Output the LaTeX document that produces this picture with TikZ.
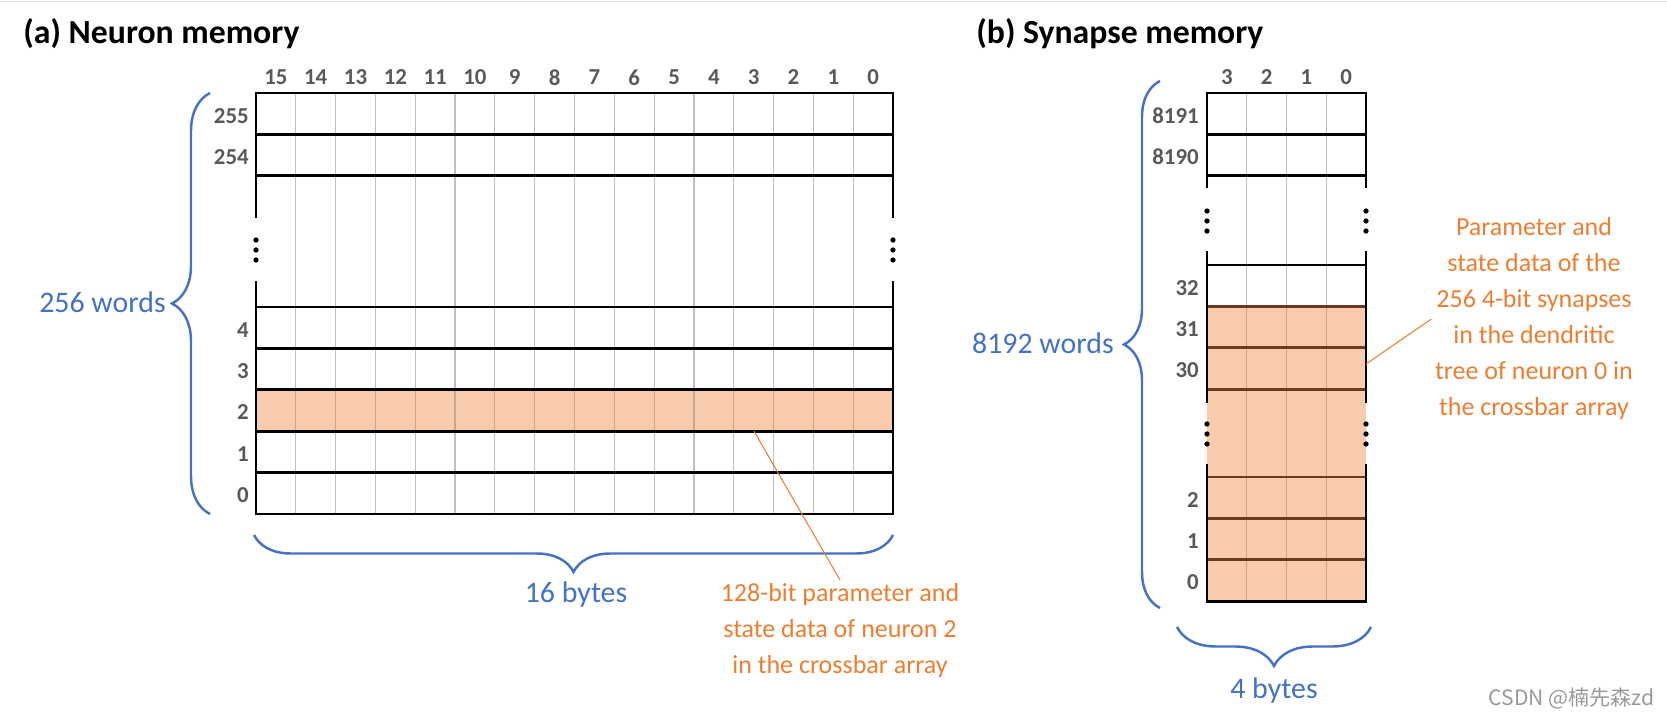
\documentclass[tikz,border=0pt]{standalone}
\usepackage{fontspec}
\setmainfont{Carlito}
\newfontfamily\cjkfont{Noto Sans CJK SC}
\usetikzlibrary{decorations.pathreplacing}
\definecolor{myblue}{HTML}{4472C4}
\definecolor{myorange}{HTML}{ED7D31}
\definecolor{mypeach}{HTML}{F8CBAD}
\definecolor{mylabel}{HTML}{595959}
\definecolor{mygrid}{HTML}{BFBFBF}
\definecolor{mygridpeach}{HTML}{C9A590}
\definecolor{mybrown}{HTML}{6B3A1E}
\tikzset{
	titletext/.style={font=\fontsize{19.2}{23}\selectfont\bfseries, inner sep=0pt}
}
\tikzset{
	idxtext/.style={font=\fontsize{13}{15}\selectfont\bfseries, text=mylabel, inner sep=0pt},
	bluetext/.style={font=\fontsize{17}{20}\selectfont, text=myblue, inner sep=0pt},
	notetext/.style={font=\fontsize{14.8}{20.5}\selectfont, text=myorange, align=center, inner sep=2pt}
}
\tikzset{
	membrace/.style={decorate, decoration={brace, amplitude=#1}, draw=myblue, line width=1.4pt},
	wordline/.style={line width=1.5pt, line cap=rect},
	bitline/.style={line width=0.7pt},
	leader/.style={draw=myorange, line width=0.6pt}
}

\begin{document}
\begin{tikzpicture}[x=0.02cm, y=-0.02cm]
      \useasboundingbox (0,0) rectangle (1667,717);

      % thin border at the top of the screenshot
      \draw[black!12, line width=1pt] (0,1.5) -- (1667,1.5);

      % titles
      \node[titletext, anchor=west] (titlea) at (23,34) {(a) Neuron memory};
      \node[titletext, anchor=west] (titleb) at (976,34) {(b) Synapse memory};

      % ---------- (a) neuron memory ----------
      % word of neuron 2
      \fill[mypeach] (256,389.8) rectangle (893,431.2);
      % bit columns
      \foreach \i in {1,...,15} {
        \draw[bitline, mygrid] ({256+\i*39.8125},93) -- ({256+\i*39.8125},514);
        \draw[bitline, mygridpeach] ({256+\i*39.8125},389.8) -- ({256+\i*39.8125},431.2);
      }
      % word lines
      \foreach \y in {93,134.4,175.8,307,348.4,389.8,431.2,472.6,514} {
        \draw[wordline] (256,\y) -- (893,\y);
      }
      \foreach \x in {256,893} {
        \draw[wordline] (\x,93) -- (\x,217) (\x,282) -- (\x,514);
        \foreach \y in {240,250,260} {
          \fill (\x,\y) circle (1.5pt);
        }
      }
      % bit and word numbers
      \foreach \b [count=\c from 0] in {15,14,...,0} {
        \node[idxtext] (cola\b) at ({256+(\c+0.5)*39.8125},77.5) {\b};
      }
      \foreach \r/\y in {255/115.7,254/157.1,4/329.7,3/371.1,2/412.5,1/453.9,0/495.3} {
        \node[idxtext, anchor=east] (rowa\r) at (249,\y) {\r};
      }
      % braces
      \draw[membrace=0.76cm] (210,514) -- (210,93);
      \node[bluetext, anchor=east] (wordsa) at (166,302) {256 words};
      \draw[membrace=0.74cm] (893,535) -- (254,535);
      \node[bluetext, anchor=base] (bytesa) at (576,602) {16 bytes};
      % note on neuron 2
      \coordinate (neurontwo) at (754,431.2);
      \node[notetext, anchor=north] (notea) at (840,580) {128-bit parameter and\\state data of neuron 2\\in the crossbar array};
      \draw[leader] (neurontwo) -- (notea.north);

      % ---------- (b) synapse memory ----------
      % words of neuron 0
      \fill[mypeach] (1207,306.4) rectangle (1366,601.2);
      % bit columns
      \foreach \i in {1,2,3} {
        \draw[bitline, mygrid] ({1207+\i*39.75},93) -- ({1207+\i*39.75},306.4);
        \draw[bitline, mygridpeach] ({1207+\i*39.75},306.4) -- ({1207+\i*39.75},601.2);
      }
      % word lines
      \foreach \y in {93,134.4,175.8,265,601.2} {
        \draw[wordline] (1207,\y) -- (1366,\y);
      }
      \foreach \y in {306.4,347.8,389.2,477,518.4,559.8} {
        \draw[wordline, mybrown] (1207,\y) -- (1366,\y);
      }
      \foreach \x in {1207,1366} {
        \draw[wordline] (\x,93) -- (\x,187) (\x,252) -- (\x,402) (\x,465) -- (\x,601.2);
        \foreach \y in {211,221,231,424,434,444} {
          \fill (\x,\y) circle (1.5pt);
        }
      }
      % bit and word numbers
      \foreach \b [count=\c from 0] in {3,2,1,0} {
        \node[idxtext] (colb\b) at ({1207+(\c+0.5)*39.75},77.5) {\b};
      }
      \foreach \r/\y in {8191/115.7,8190/157.1,32/287.7,31/329.1,30/370.5,2/499.7,1/541.1,0/582.5} {
        \node[idxtext, anchor=east] (rowb\r) at (1199,\y) {\r};
      }
      % braces
      \draw[membrace=0.72cm] (1160,608) -- (1160,81);
      \node[bluetext, anchor=east] (wordsb) at (1114,343) {8192 words};
      \draw[membrace=0.78cm] (1371,627) -- (1177,627);
      \node[bluetext, anchor=base] (bytesb) at (1274,698) {4 bytes};
      % note on neuron 0
      \coordinate (neuronzero) at (1366,364);
      \node[notetext] (noteb) at (1534,319) {Parameter and\\state data of the\\256 4-bit synapses\\in the dendritic\\tree of neuron 0 in\\the crossbar array};
      \draw[leader] (neuronzero) -- (noteb.west);

      % watermark
      \node[font=\cjkfont\fontsize{12}{14}\selectfont, text=black!40, anchor=east, inner sep=0pt] (mark) at (1655,698) {CSDN @楠先森zd};
\end{tikzpicture}
\end{document}
